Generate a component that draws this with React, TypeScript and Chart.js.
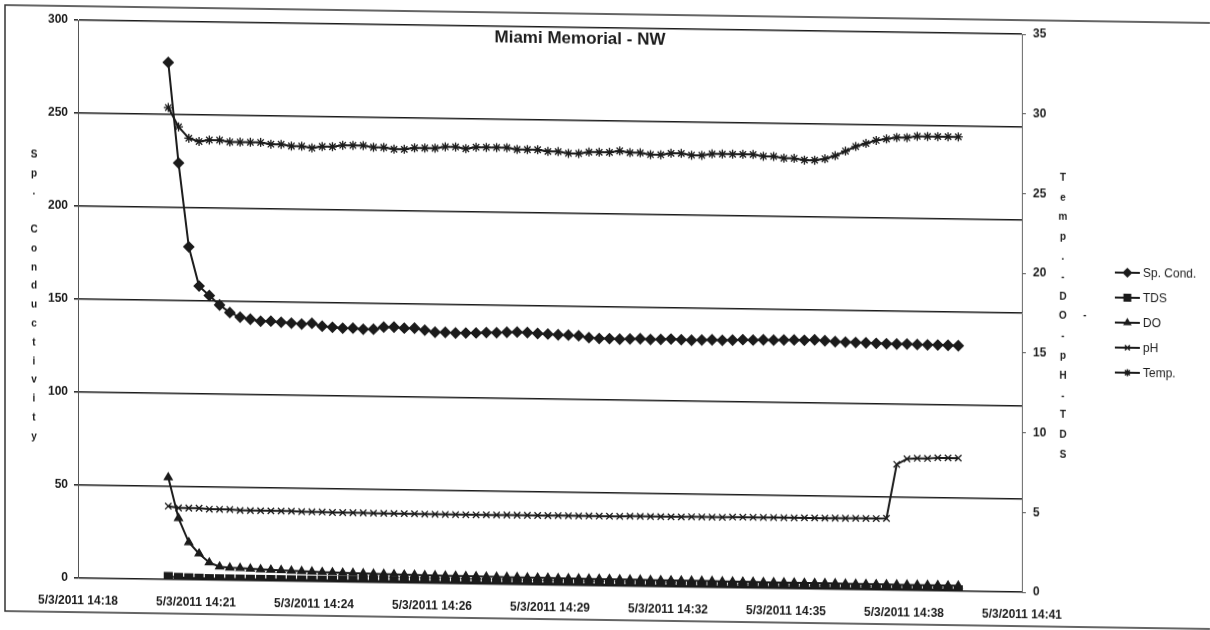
import React, { useEffect, useRef } from "react";
import { Chart, registerables } from "chart.js";
import { drawPoint } from "chart.js/helpers";

Chart.register(...registerables);

const TITLE = "Miami Memorial - NW";
const LEFT_AXIS_TITLE = "Sp. Conductivity";
const RIGHT_AXIS_TITLE = "Temp.-DO-pH-TDS";

const X_TICK_LABELS = [
  "5/3/2011 14:18",
  "5/3/2011 14:21",
  "5/3/2011 14:24",
  "5/3/2011 14:26",
  "5/3/2011 14:29",
  "5/3/2011 14:32",
  "5/3/2011 14:35",
  "5/3/2011 14:38",
  "5/3/2011 14:41",
];
// minutes after the first axis label
const X_AXIS_SPAN_MIN = 23;
const FIRST_SAMPLE_MIN = 2.2;
const SAMPLE_STEP_MIN = 0.25;

const LEFT_MAX = 300;
const LEFT_STEP = 50;
const RIGHT_MAX = 35;
const RIGHT_STEP = 5;

const SERIES_NAMES = ["Sp. Cond.", "TDS", "DO", "pH", "Temp."];

const SP_COND = [
  278, 224, 179, 158, 153, 148, 144, 141.6, 140.6, 139.6,
  139.7, 139.2, 138.8, 138.4, 138.9, 137.4, 136.9, 136.5, 136.6, 136.1,
  136.2, 137.4, 137.5, 137.0, 137.1, 136.1, 135.1, 135.1, 134.8, 134.9,
  135.0, 135.3, 135.3, 135.6, 135.8, 135.6, 135.2, 135.0, 134.7, 134.6,
  134.3, 133.4, 133.0, 133.0, 132.8, 133.0, 133.2, 132.9, 133.0, 133.3,
  133.0, 132.8, 133.0, 133.2, 133.0, 133.2, 133.5, 133.4, 133.6, 133.5,
  133.7, 133.8, 133.7, 134.0, 133.6, 133.2, 133.0, 132.9, 132.8, 132.6,
  132.5, 132.4, 132.5, 132.3, 132.2, 132.2, 132.1, 132.0,
];

const TDS = [
  0.181, 0.146, 0.116, 0.103, 0.099, 0.096, 0.094, 0.092, 0.091, 0.091,
  0.091, 0.09, 0.09, 0.09, 0.09, 0.089, 0.089, 0.089, 0.089, 0.088,
  0.089, 0.089, 0.089, 0.089, 0.089, 0.088, 0.088, 0.088, 0.088, 0.088,
  0.088, 0.088, 0.088, 0.088, 0.088, 0.088, 0.088, 0.088, 0.088, 0.087,
  0.087, 0.087, 0.086, 0.086, 0.086, 0.086, 0.087, 0.086, 0.086, 0.087,
  0.086, 0.086, 0.086, 0.087, 0.086, 0.087, 0.087, 0.087, 0.087, 0.087,
  0.087, 0.087, 0.087, 0.087, 0.087, 0.087, 0.086, 0.086, 0.086, 0.086,
  0.086, 0.086, 0.086, 0.086, 0.086, 0.086, 0.086, 0.086,
];

const DO = [
  6.4, 3.85, 2.35, 1.65, 1.1, 0.85, 0.8, 0.78, 0.75, 0.72,
  0.7, 0.68, 0.66, 0.64, 0.62, 0.6, 0.59, 0.58, 0.57, 0.56,
  0.55, 0.54, 0.53, 0.52, 0.51, 0.5, 0.5, 0.49, 0.49, 0.48,
  0.48, 0.47, 0.47, 0.46, 0.46, 0.45, 0.45, 0.45, 0.44, 0.44,
  0.44, 0.43, 0.43, 0.43, 0.42, 0.42, 0.42, 0.41, 0.41, 0.41,
  0.4, 0.4, 0.4, 0.4, 0.39, 0.39, 0.39, 0.39, 0.38, 0.38,
  0.38, 0.38, 0.37, 0.37, 0.37, 0.37, 0.36, 0.36, 0.36, 0.36,
  0.36, 0.35, 0.35, 0.35, 0.35, 0.35, 0.34, 0.34,
];

const PH = [
  4.6, 4.5, 4.5, 4.5, 4.45, 4.45, 4.45, 4.4, 4.4, 4.4,
  4.4, 4.4, 4.4, 4.38, 4.38, 4.38, 4.36, 4.36, 4.36, 4.36,
  4.35, 4.35, 4.35, 4.35, 4.35, 4.34, 4.34, 4.34, 4.34, 4.34,
  4.34, 4.35, 4.35, 4.36, 4.36, 4.36, 4.36, 4.36, 4.37, 4.37,
  4.37, 4.38, 4.38, 4.38, 4.38, 4.4, 4.4, 4.4, 4.4, 4.4,
  4.4, 4.42, 4.42, 4.42, 4.42, 4.44, 4.44, 4.44, 4.44, 4.45,
  4.45, 4.45, 4.46, 4.46, 4.46, 4.47, 4.47, 4.48, 4.48, 4.48,
  4.5, 7.9, 8.25, 8.3, 8.3, 8.35, 8.35, 8.35,
];

const TEMP = [
  29.6, 28.4, 27.7, 27.5, 27.6, 27.6, 27.5, 27.5, 27.5, 27.5,
  27.4, 27.4, 27.3, 27.3, 27.2, 27.3, 27.3, 27.4, 27.4, 27.4,
  27.3, 27.3, 27.2, 27.2, 27.3, 27.3, 27.3, 27.4, 27.4, 27.3,
  27.4, 27.4, 27.4, 27.4, 27.3, 27.3, 27.3, 27.2, 27.2, 27.1,
  27.1, 27.2, 27.2, 27.2, 27.3, 27.2, 27.2, 27.1, 27.1, 27.2,
  27.2, 27.1, 27.1, 27.2, 27.2, 27.2, 27.2, 27.2, 27.1, 27.1,
  27.0, 27.0, 26.9, 26.9, 27.0, 27.2, 27.5, 27.8, 28.0, 28.2,
  28.3, 28.4, 28.4, 28.5, 28.5, 28.5, 28.5, 28.5,
];

const INK = "#1b1b1b";
const FONT = '"Liberation Sans", Arial, sans-serif';

const SERIES_VALUES = [SP_COND, TDS, DO, PH, TEMP];
const SERIES_AXES = ["y", "y2", "y2", "y2", "y2"];
const SERIES_POINTS = ["rectRot", "rect", "triangle", "crossRot", "star"];
const SERIES_RADII = [5, 5.5, 4.5, 4.5, 4.5];

const decorPlugin = {
  id: "decor",
  afterDraw(chart: any) {
    const ctx: CanvasRenderingContext2D = chart.ctx;
    ctx.save();
    // outer frame
    ctx.strokeStyle = "#333";
    ctx.lineWidth = 1.5;
    ctx.strokeRect(5, 5, 1240, 606);

    ctx.fillStyle = INK;
    ctx.textAlign = "center";
    ctx.textBaseline = "middle";

    // title
    ctx.font = `bold 17px ${FONT}`;
    ctx.fillText(TITLE, 580, 30);

    // stacked axis titles
    ctx.font = `bold 10px ${FONT}`;
    LEFT_AXIS_TITLE.split("").forEach((ch, i) => {
      ctx.fillText(ch, 34, 154 + i * 18.8);
    });
    RIGHT_AXIS_TITLE.split("").forEach((ch, i) => {
      ctx.fillText(ch, 1063, 162 + i * 19.8);
    });
    ctx.fillText("-", 1085, 299);

    // legend
    ctx.textAlign = "left";
    ctx.font = `12px ${FONT}`;
    SERIES_NAMES.forEach((name, i) => {
      const y = 256 + i * 25;
      ctx.strokeStyle = INK;
      ctx.fillStyle = INK;
      ctx.lineWidth = 2;
      ctx.beginPath();
      ctx.moveTo(1115, y);
      ctx.lineTo(1140, y);
      ctx.stroke();
      ctx.lineWidth = 1.5;
      drawPoint(
        ctx,
        { pointStyle: SERIES_POINTS[i], radius: SERIES_RADII[i] - 1, rotation: 0, borderWidth: 1.5 } as any,
        1127.5,
        y
      );
      ctx.fillStyle = INK;
      ctx.fillText(name, 1143, y + 1);
    });
    ctx.restore();
  },
};

export default function App() {
  const canvasRef = useRef<HTMLCanvasElement | null>(null);

  useEffect(() => {
    if (!canvasRef.current) return;
    const times = SP_COND.map((_, i) => FIRST_SAMPLE_MIN + i * SAMPLE_STEP_MIN);
    const datasets = SERIES_NAMES.map((name, s) => ({
      label: name,
      data: SERIES_VALUES[s].map((v, i) => ({ x: times[i], y: v })),
      yAxisID: SERIES_AXES[s],
      borderColor: INK,
      backgroundColor: INK,
      borderWidth: 2,
      pointStyle: SERIES_POINTS[s],
      pointRadius: SERIES_RADII[s],
      pointBorderWidth: 1.3,
      pointBackgroundColor: INK,
      pointBorderColor: INK,
      tension: 0,
      order: SERIES_NAMES.length - s,
    }));
    const tickStep = X_AXIS_SPAN_MIN / (X_TICK_LABELS.length - 1);
    const tickFont = { family: FONT, size: 12, weight: "bold" as const };

    const chart = new Chart(canvasRef.current, {
      type: "line",
      data: { datasets },
      plugins: [decorPlugin],
      options: {
        animation: false,
        responsive: false,
        devicePixelRatio: 1,
        layout: { padding: { top: 19, left: 0, right: 0, bottom: 0 } },
        plugins: {
          legend: { display: false },
          title: { display: false },
          tooltip: { enabled: false },
        },
        scales: {
          x: {
            type: "linear",
            min: 0,
            max: X_AXIS_SPAN_MIN,
            afterBuildTicks: (scale: any) => {
              scale.ticks = X_TICK_LABELS.map((_, i) => ({ value: i * tickStep }));
            },
            afterFit: (scale: any) => {
              scale.height = 53;
            },
            grid: { display: false, drawTicks: false },
            border: { display: false },
            ticks: {
              autoSkip: false,
              maxRotation: 0,
              padding: 15,
              color: INK,
              font: tickFont,
              callback: (_v: any, i: number) => X_TICK_LABELS[i],
            },
          },
          y: {
            position: "left",
            min: 0,
            max: LEFT_MAX,
            afterFit: (scale: any) => {
              scale.width = 78;
            },
            ticks: { stepSize: LEFT_STEP, padding: 6, color: INK, font: tickFont },
            grid: { color: INK, lineWidth: 1.5, tickLength: 4 },
            border: { display: true, color: "#555", width: 1 },
          },
          y2: {
            position: "right",
            min: 0,
            max: RIGHT_MAX,
            afterFit: (scale: any) => {
              scale.width = 188;
            },
            ticks: { stepSize: RIGHT_STEP, padding: 7, color: INK, font: tickFont },
            grid: { drawOnChartArea: false, color: "#555", tickLength: 4 },
            border: { display: true, color: "#666", width: 1 },
          },
        },
      } as any,
    });
    return () => chart.destroy();
  }, []);

  return (
    <div
      style={{
        position: "fixed",
        left: 0,
        top: 0,
        width: 1210,
        height: 630,
        background: "#fff",
        transform: "skewY(0.85deg)",
        transformOrigin: "0 0",
      }}
    >
      <canvas ref={canvasRef} width={1210} height={630} style={{ width: 1210, height: 630 }} />
    </div>
  );
}
